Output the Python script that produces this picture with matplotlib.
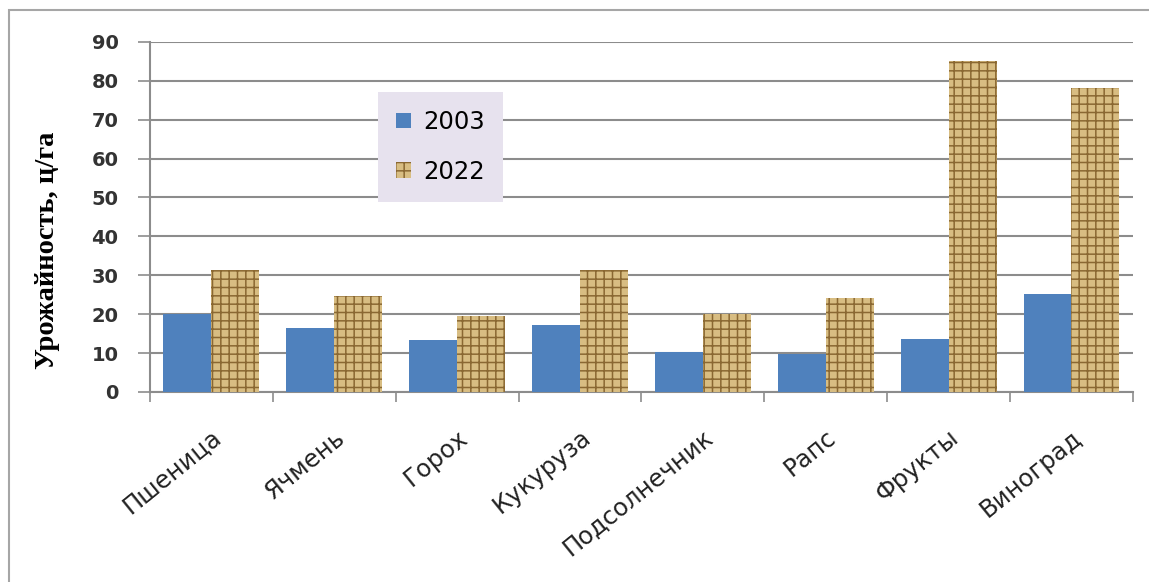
import numpy as np
import matplotlib
matplotlib.use("Agg")
import matplotlib.pyplot as plt
from matplotlib.patches import Rectangle

# yield, c/ha
crops = ["Пшеница", "Ячмень", "Горох", "Кукуруза", "Подсолнечник", "Рапс", "Фрукты", "Виноград"]
y2003 = [20.0, 16.4, 13.4, 17.3, 10.2, 9.8, 13.7, 25.1]
y2022 = [31.4, 24.7, 19.5, 31.4, 20.0, 24.1, 85.0, 78.2]
yticks = [0, 10, 20, 30, 40, 50, 60, 70, 80, 90]

grey = "#8c8c8c"
plt.rcParams["hatch.linewidth"] = 1.1

fig = plt.figure(figsize=(11.49, 5.82), dpi=100)
ax = fig.add_axes([0.1305, 0.3265, 0.8555, 0.6015])

x = np.arange(len(crops))
w = 0.39
ax.bar(x - w / 2, y2003, w, color="#4f81bd", label="2003", zorder=3)
ax.bar(x + w / 2, y2022, w, facecolor="#d8bd82", edgecolor="#8a6832",
       hatch="++", linewidth=0, label="2022", zorder=3)

ax.set_xlim(-0.5, len(crops) - 0.5)
ax.set_ylim(0, 90)
ax.set_yticks(yticks)
ax.yaxis.grid(True, color=grey, lw=1.5, zorder=0)
ax.tick_params(axis="y", length=8.6, width=1.2, color=grey, pad=14,
               labelsize=14)
for t in ax.get_yticklabels():
    t.set_fontweight("bold")
    t.set_color("#333333")

ax.set_xticks(x)
ax.set_xticklabels(crops, rotation=39, ha="right", rotation_mode="anchor",
                   fontsize=17.5, color="#222222")
ax.tick_params(axis="x", which="major", length=0, pad=24)
ax.set_xticks(np.arange(-0.5, len(crops)), minor=True)
ax.tick_params(axis="x", which="minor", length=7, width=1.2, color=grey)

for s in ["top", "right"]:
    ax.spines[s].set_visible(False)
for s in ["left", "bottom"]:
    ax.spines[s].set_color(grey)
    ax.spines[s].set_linewidth(1.5)

ax.set_ylabel("Урожайность, ц/га", family="Liberation Serif", fontweight="bold",
              fontsize=20.5)
ax.yaxis.set_label_coords(-0.092, 0.406)

leg = ax.legend(loc="upper left", bbox_to_anchor=(0.232, 0.857), borderaxespad=0,
                fontsize=17.5, frameon=True, fancybox=False, facecolor="#e7e2ee",
                edgecolor="none", framealpha=1, handlelength=0.6, handleheight=0.6,
                handletextpad=0.5, labelspacing=1.05, borderpad=0.75)
leg.set_zorder(5)

fig.patches.append(Rectangle((9 / 1149, -0.02), 1.0, 1 - 10 / 582 + 0.02,
                             transform=fig.transFigure, fill=False,
                             edgecolor="#a6a6a6", lw=1.5))

fig.savefig("out.png", dpi=100)
